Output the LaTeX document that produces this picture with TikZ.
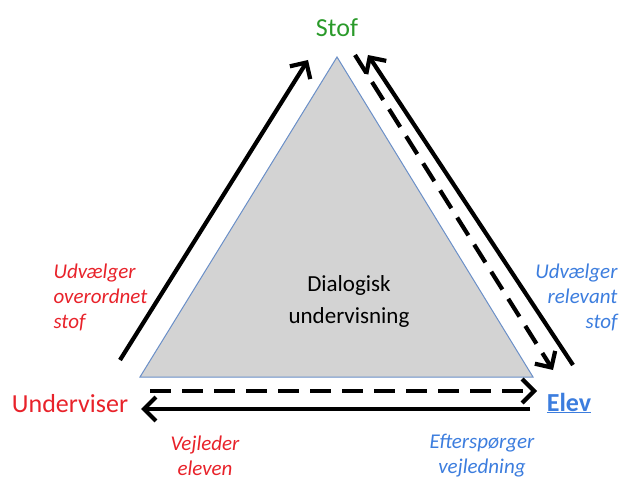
\documentclass[tikz,border=0pt]{standalone}
\usepackage{fontspec}
\setmainfont{Carlito}
\usetikzlibrary{arrows.meta}
\definecolor{stofgreen}{RGB}{42,154,42}
\definecolor{lrred}{RGB}{232,34,42}
\definecolor{elevblue}{RGB}{60,125,222}
\definecolor{trigray}{RGB}{211,211,211}
\definecolor{triedge}{RGB}{106,143,200}
\tikzset{
  flow/.style={line width=4.2pt, -{Straight Barb[length=12pt,width=24pt]}},
  flowdash/.style={flow, dash pattern=on 21pt off 11pt},
  role/.style={font=\fontsize{26}{31}\selectfont},
  note/.style={font=\fontsize{21}{25}\selectfont\itshape}
}
\begin{document}
\begin{tikzpicture}[x=1pt,y=-1pt]
\useasboundingbox (0,0) rectangle (624,481);
% the triangle
\coordinate (top) at (337,57);
\coordinate (bl) at (140,377);
\coordinate (br) at (533,377);
\fill[trigray] (top) -- (bl) -- (br) -- cycle;
\draw[triedge, line width=1pt] (top) -- (bl) -- (br) -- cycle;
\node[align=center, font=\fontsize{23}{32}\selectfont] (midtext) at (349,301) {Dialogisk\\undervisning};
% corner labels
\node[role, text=stofgreen] (stof) at (337,28) {Stof};
\node[role, text=lrred] (underviser) at (70,404) {Underviser};
\node[role, text=elevblue, font=\fontsize{26}{31}\selectfont\bfseries] (elev) at (569,403) {\underline{Elev}};
% ends of the arrows
\coordinate (uStart) at (120,360);
\coordinate (uEnd) at (308,60);
\coordinate (sDown) at (355,55);
\coordinate (sDownEnd) at (553,370);
\coordinate (eUp) at (573,365);
\coordinate (eUpEnd) at (368,55);
\coordinate (dStart) at (150,391);
\coordinate (dEnd) at (537,391);
\coordinate (bStart) at (530,409);
\coordinate (bEnd) at (141,409);
% arrows
\draw[flow] (uStart) -- (uEnd);
\draw[flowdash] (sDown) -- (sDownEnd);
\draw[flow] (eUp) -- (eUpEnd);
\draw[flowdash] (dStart) -- (dEnd);
\draw[flow] (bStart) -- (bEnd);
% arrow notes
\node[note, text=lrred, align=left, anchor=west] (udvLeft) at (50,297) {Udvælger\\overordnet\\stof};
\node[note, text=elevblue, align=right, anchor=east] (udvRight) at (621,297) {Udvælger\\relevant\\stof};
\node[note, text=lrred, align=center] (vejleder) at (205,456) {Vejleder\\eleven};
\node[note, text=elevblue, align=center] (efter) at (482,456) {Efterspørger\\vejledning};
\end{tikzpicture}
\end{document}
